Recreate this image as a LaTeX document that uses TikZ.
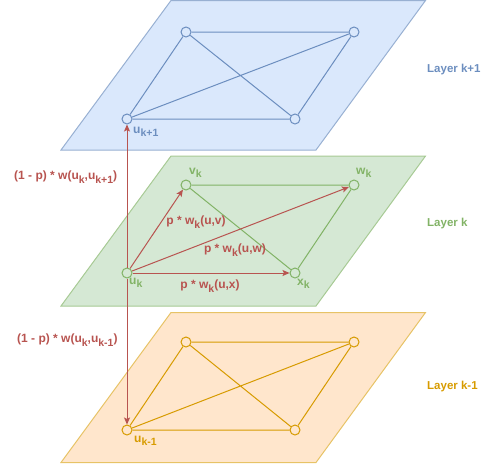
\documentclass[tikz,border=0pt]{standalone}
\usepackage{fontspec}
\setmainfont{Liberation Sans}
\usetikzlibrary{arrows.meta}
\definecolor{bfill}{HTML}{DAE8FC}
\definecolor{bline}{HTML}{6C8EBF}
\definecolor{gfill}{HTML}{D5E8D4}
\definecolor{gline}{HTML}{82B366}
\definecolor{ofill}{HTML}{FFE6CC}
\definecolor{oline}{HTML}{D79B00}
\definecolor{redl}{HTML}{B85450}
\newcommand{\subx}[1]{\raisebox{-0.3em}{\fontsize{10.5}{11}\selectfont #1}}
\tikzset{
  vtx/.style={circle, draw, minimum size=10pt, inner sep=0pt, line width=1pt},
  lbl/.style={font=\fontsize{11.5}{13}\selectfont\bfseries, inner sep=0pt},
  nlbl/.style={font=\fontsize{12}{14}\selectfont\bfseries, inner sep=0pt, anchor=west},
  rlbl/.style={font=\fontsize{12}{14}\selectfont\bfseries, inner sep=0pt, text=redl},
  plane/.style={line width=1pt},
  edge/.style={line width=1pt},
  rarrow/.style={line width=1pt, draw=redl, -{Stealth[length=7pt,width=6pt,inset=1.5pt]}},
}
\begin{document}
\begin{tikzpicture}[x=1pt,y=-1pt]
\useasboundingbox (0,0) rectangle (486,463);
% planes
\filldraw[plane, fill=bfill, draw=bline!70] (171,0.5) -- (425.5,0.5) -- (316,150) -- (61,150) -- cycle;
\filldraw[plane, fill=gfill, draw=gline!70] (171,156) -- (425.5,156) -- (316,306) -- (61,306) -- cycle;
\filldraw[plane, fill=ofill, draw=oline!60] (171,312.5) -- (425.5,312.5) -- (316,462.5) -- (61,462.5) -- cycle;

% blue layer
\begin{scope}[bline]
\node[vtx] (b1) at (186,32) {};
\node[vtx] (b2) at (354,32) {};
\node[vtx] (b3) at (127,119) {};
\node[vtx] (b4) at (295,119) {};
\draw[edge] (b1) -- (b2) (b1) -- (b3) (b1) -- (b4) (b2) -- (b3) (b2) -- (b4) (b3) -- (b4);
\node[lbl, anchor=west, text=bline] (lb) at (427,70) {Layer k+1};
\node[nlbl, text=bline] (nb3) at (133,132) {u\subx{k+1}};
\end{scope}

% green layer
\begin{scope}[gline]
\node[vtx] (g1) at (186,185) {};
\node[vtx] (g2) at (354,185) {};
\node[vtx] (g3) at (127,273) {};
\node[vtx] (g4) at (295,273) {};
\draw[edge] (g1) -- (g2) (g1) -- (g4) (g2) -- (g4);
\node[lbl, anchor=west, text=gline] (lg) at (427,224) {Layer k};
\node[nlbl, text=gline] (ng1) at (189,173) {v\subx{k}};
\node[nlbl, text=gline] (ng2) at (356,173) {w\subx{k}};
\node[nlbl, text=gline] (ng3) at (129,283) {u\subx{k}};
\node[nlbl, text=gline] (ng4) at (297,284) {x\subx{k}};
\end{scope}

% orange layer
\begin{scope}[oline]
\node[vtx] (o1) at (186,342) {};
\node[vtx] (o2) at (354,342) {};
\node[vtx] (o3) at (127,430) {};
\node[vtx] (o4) at (295,430) {};
\draw[edge] (o1) -- (o2) (o1) -- (o3) (o1) -- (o4) (o2) -- (o3) (o2) -- (o4) (o3) -- (o4);
\node[lbl, anchor=west, text=oline] (lo) at (427,387) {Layer k-1};
\node[nlbl, text=oline] (no3) at (134,441) {u\subx{k-1}};
\end{scope}

% red arrows
\draw[rarrow] (g3) -- (g1);
\draw[rarrow] (g3) -- (g2);
\draw[rarrow] (g3) -- (g4);
\draw[rarrow] (g3) -- (b3);
\draw[rarrow] (g3) -- (o3);

% red labels
\node[rlbl] (lv) at (196,222) {p * w\subx{k}(u,v)};
\node[rlbl] (lw) at (235,250) {p * w\subx{k}(u,w)};
\node[rlbl] (lx) at (210,286) {p * w\subx{k}(u,x)};
\node[rlbl, anchor=west] (lup) at (14,177) {(1 - p) * w(u\subx{k},u\subx{k+1})};
\node[rlbl, anchor=west] (ldn) at (17,340) {(1 - p) * w(u\subx{k},u\subx{k-1})};
\end{tikzpicture}
\end{document}
